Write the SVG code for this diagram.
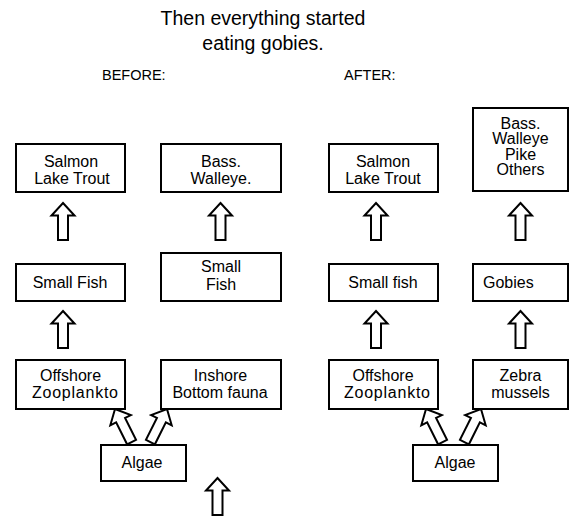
<svg xmlns="http://www.w3.org/2000/svg" width="569" height="519" viewBox="0 0 569 519">
<defs>
<style>
text{font-family:"Liberation Sans",Arial,sans-serif;fill:#000}
.t{font-size:19.5px;text-anchor:middle}
.h{font-size:14.5px}
.n{font-size:16px;text-anchor:middle}
.box{fill:#fff;stroke:#000;stroke-width:2}
.arr{fill:#fff;stroke:#000;stroke-width:2;stroke-linejoin:miter}
</style>
<path id="up" d="M0,0 L11.5,12.5 L5,12.5 L5,37 L-5,37 L-5,12.5 L-11.5,12.5 Z"/>
</defs>
<rect width="569" height="519" fill="#fff"/>
<g id="title">
<text class="t" x="263" y="25">Then everything started</text>
<text class="t" x="263" y="50">eating gobies.</text>
</g>
<g id="before-label"><text class="h" x="102" y="80">BEFORE:</text></g>
<g id="after-label"><text class="h" x="344" y="80">AFTER:</text></g>

<g id="connectors">
<use href="#up" class="arr" x="63" y="203"/>
<use href="#up" class="arr" x="220.5" y="203"/>
<use href="#up" class="arr" x="63" y="311"/>
<use href="#up" class="arr" transform="translate(115,409) rotate(-26.6)"/>
<use href="#up" class="arr" transform="translate(167,409) rotate(26.6)"/>
<use href="#up" class="arr" x="217.5" y="478"/>
<use href="#up" class="arr" x="376" y="203"/>
<use href="#up" class="arr" x="520.5" y="203"/>
<use href="#up" class="arr" x="376" y="311"/>
<use href="#up" class="arr" x="520.5" y="311"/>
<use href="#up" class="arr" transform="translate(426,409) rotate(-26.6)"/>
<use href="#up" class="arr" transform="translate(481,409) rotate(26.6)"/>
</g>

<g id="b-salmon"><rect class="box" x="16" y="144" width="109" height="48"/>
<text class="n" x="71" y="166.5">Salmon</text><text class="n" x="72" y="183.5">Lake Trout</text></g>
<g id="b-bass"><rect class="box" x="161" y="144" width="120" height="48"/>
<text class="n" x="221" y="166.5">Bass.</text><text class="n" x="221" y="183.5">Walleye.</text></g>
<g id="b-smallfish1"><rect class="box" x="16" y="264" width="109" height="37"/>
<text class="n" x="70" y="287.5">Small Fish</text></g>
<g id="b-smallfish2"><rect class="box" x="161" y="253" width="120" height="48"/>
<text class="n" x="221" y="272">Small</text><text class="n" x="221" y="289.5">Fish</text></g>
<g id="b-offshore"><rect class="box" x="16" y="360" width="109" height="49"/>
<text class="n" x="70.5" y="380.5">Offshore</text><text class="n" x="75" y="397.5" textLength="86" lengthAdjust="spacing">Zooplankto</text></g>
<g id="b-inshore"><rect class="box" x="161" y="360" width="120" height="49"/>
<text class="n" x="220.5" y="380.5">Inshore</text><text class="n" x="220" y="397.5">Bottom fauna</text></g>
<g id="b-algae"><rect class="box" x="101" y="445" width="85" height="36"/>
<text class="n" x="142" y="468">Algae</text></g>

<g id="a-salmon"><rect class="box" x="329" y="144" width="109" height="48"/>
<text class="n" x="383" y="166.5">Salmon</text><text class="n" x="383" y="183.5">Lake Trout</text></g>
<g id="a-bass"><rect class="box" x="473" y="108" width="95" height="83"/>
<text class="n" x="520.5" y="128.5">Bass.</text><text class="n" x="520.5" y="144">Walleye</text><text class="n" x="520.5" y="159.5">Pike</text><text class="n" x="520.5" y="175">Others</text></g>
<g id="a-smallfish"><rect class="box" x="329" y="264" width="109" height="37"/>
<text class="n" x="383" y="287.5">Small fish</text></g>
<g id="a-gobies"><rect class="box" x="473" y="264" width="95" height="37"/>
<text class="n" x="483" y="287.5" style="text-anchor:start">Gobies</text></g>
<g id="a-offshore"><rect class="box" x="329" y="360" width="109" height="49"/>
<text class="n" x="383" y="380.5">Offshore</text><text class="n" x="387" y="397.5" textLength="86" lengthAdjust="spacing">Zooplankto</text></g>
<g id="a-zebra"><rect class="box" x="473" y="360" width="95" height="49"/>
<text class="n" x="520.5" y="380.5">Zebra</text><text class="n" x="520.5" y="397.5">mussels</text></g>
<g id="a-algae"><rect class="box" x="413" y="445" width="85" height="36"/>
<text class="n" x="455" y="468">Algae</text></g>
</svg>
